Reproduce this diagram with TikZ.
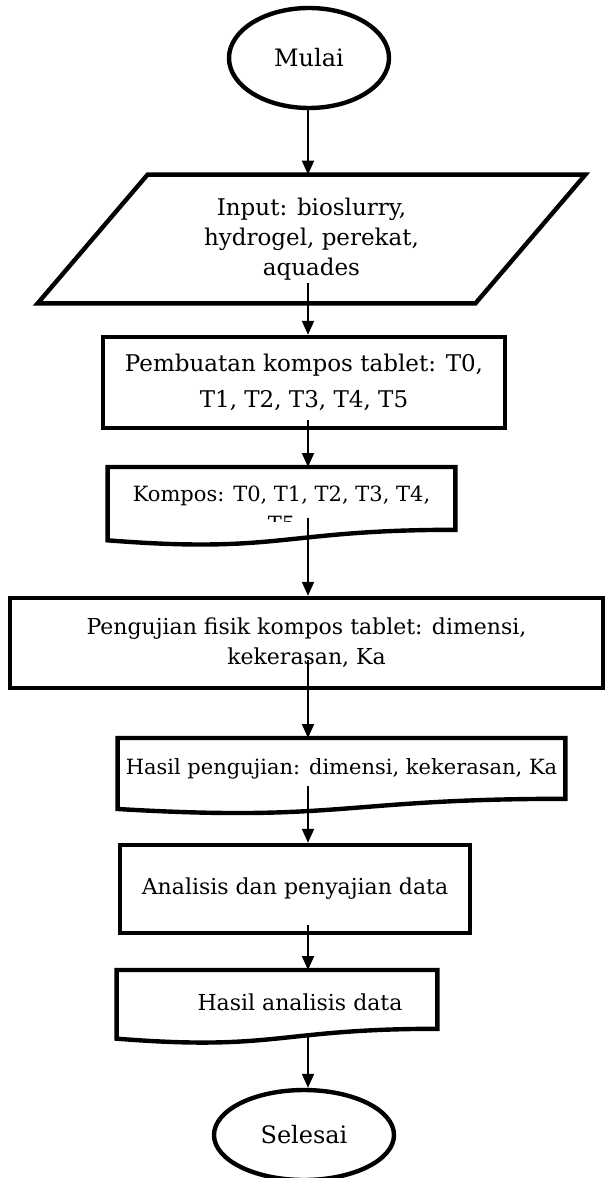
\documentclass[tikz,border=0pt]{standalone}
\usepackage{fontspec}
\setmainfont{DejaVu Serif}
\usetikzlibrary{calc,shapes.geometric,arrows.meta}

% outline of a document box: straight top, wavy bottom below the node
\newcommand{\docpath}[1]{(#1.north west) -- (#1.north east) -- (#1.south east)
	.. controls (#1.south) and ($(#1.north)!1.385!(#1.south)$) .. ($(#1.north west)!1.1675!(#1.south west)$) -- cycle}

\begin{document}
\begin{tikzpicture}[x=0.5pt, y=-0.5pt,
		shape line/.style={draw, line width=2.2pt},
		flow/.style={line width=1pt, -{Triangle[width=6pt,length=7pt]}},
		txt/.style={align=center, inner sep=0pt, font=\fontsize{11}{15}\selectfont},
		small txt/.style={txt, font=\fontsize{10.5}{15}\selectfont},
		proses/.style={rectangle, shape line, txt},
		terminal/.style={ellipse, shape line, txt, font=\fontsize{12}{15}\selectfont}]
		\useasboundingbox (0,0) rectangle (605,1178);
		\coordinate (axis) at (308,0);

		\node[terminal, minimum width=80pt, minimum height=50pt] (mulai) at (309,58) {Mulai};

		\node[txt, minimum width=273.5pt, minimum height=64pt, font=\fontsize{11.5}{15}\selectfont] (input) at (311.5,239) {Input: bioslurry,\\ hydrogel, perekat,\\ aquades};
		\draw[shape line] ($(input.north west)+(110,0)$) -- (input.north east) -- ($(input.south east)+(-110,0)$) -- (input.south west) -- cycle;

		\node[proses, minimum width=201pt, minimum height=45.5pt, font=\fontsize{11.5}{18}\selectfont] (buat) at (304,382.5) {Pembuatan kompos tablet: T0,\\ T1, T2, T3, T4, T5};

		\node[txt, minimum width=173.5pt, minimum height=31pt, anchor=north] (kompos) at (281.5,467) {};
		\begin{scope}
			\clip (100,460) rectangle (470,521);
			\node[small txt] (komposteks) at (281.5,509) {Kompos: T0, T1, T2, T3, T4,\\ T5};
		\end{scope}
		\draw[shape line] \docpath{kompos};

		\node[proses, minimum width=296.5pt, minimum height=45pt] (uji) at (306.5,643) {Pengujian fisik kompos tablet: dimensi,\\ kekerasan, Ka};

		\node[small txt, minimum width=223.5pt, minimum height=30pt, anchor=north] (hasiluji) at (341.5,738) {Hasil pengujian: dimensi, kekerasan, Ka};
		\draw[shape line] \docpath{hasiluji};

		\node[proses, minimum width=175pt, minimum height=44pt] (analisis) at (295,889) {Analisis dan penyajian data};

		\node[txt, minimum width=160pt, minimum height=29pt, anchor=north] (hasilan) at (277,970) {};
		\node[txt] (hasilanteks) at (300,1002) {Hasil analisis data};
		\draw[shape line] \docpath{hasilan};

		\node[terminal, minimum width=90pt, minimum height=45pt] (selesai) at (304,1135) {Selesai};

		% connectors
		\draw[flow] (mulai.south -| axis) -- (axis |- input.north);
		\draw[flow] ($(axis |- input.south)+(0,-20)$) -- (axis |- buat.north);
		\draw[flow] ($(axis |- buat.south)+(0,-10)$) -- (axis |- kompos.north);
		\draw[flow] ($(axis |- kompos.south)+(0,-12)$) -- (axis |- uji.north);
		\draw[flow] ($(axis |- uji.south)+(0,-30)$) -- (axis |- hasiluji.north);
		\draw[flow] ($(axis |- hasiluji.south)+(0,-13)$) -- (axis |- analisis.north);
		\draw[flow] ($(axis |- analisis.south)+(0,-10)$) -- (axis |- hasilan.north);
		\draw[flow] ($(axis |- hasilan.south)+(0,5)$) -- (axis |- selesai.north);
	\end{tikzpicture}
\end{document}
